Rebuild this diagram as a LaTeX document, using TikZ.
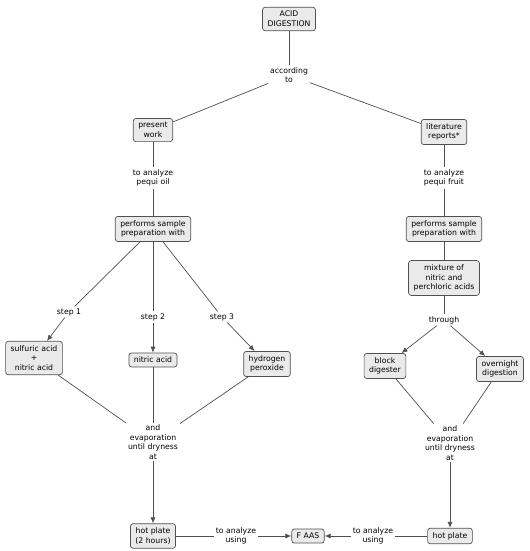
\documentclass[tikz,border=0pt]{standalone}
\usepackage{fontspec}
\setmainfont{DejaVu Sans}
\usepackage{tikz}
\usetikzlibrary{shapes,arrows.meta,positioning,calc}
\usepackage{xcolor}
\definecolor{conceptgray}{RGB}{234,234,234}
\definecolor{edgegray}{RGB}{80,80,80}

\begin{document}
\begin{tikzpicture}[
    on grid,
    font=\fontsize{8.8}{11}\selectfont,
    concept/.style={rectangle, draw=edgegray, rounded corners=3pt, fill=conceptgray, line width=0.8pt, align=center, inner xsep=0.2cm, inner ysep=0.16cm},
    linking/.style={align=center, inner sep=2pt, fill=white},
    line/.style={draw=edgegray, line width=0.8pt},
    arrow/.style={line, -{Latex[length=2.4mm,width=2mm]}}
]
    \useasboundingbox (-11.56,0.76) rectangle (9.64,-21.28);

    % Top
    \node[concept] (acid) {ACID\\DIGESTION};
    \node[linking, below=2.24cm of acid] (according) {according\\to};

    % Present work
    \node[concept, below left=2.2cm and 5.44cm of according] (present) {present\\work};
    \node[linking, below=1.92cm of present] (oil) {to analyze\\pequi oil};
    \node[concept, below=2.04cm of oil] (prepL) {performs sample\\preparation with};
    \node[linking, below left=3.32cm and 3.36cm of prepL] (step1) {step 1};
    \node[linking, below=3.52cm of prepL] (step2) {step 2};
    \node[linking, below right=3.52cm and 2.76cm of prepL] (step3) {step 3};
    \node[concept, below left=1.84cm and 1.4cm of step1] (sulfuric) {sulfuric acid\\+\\nitric acid};
    \node[concept, below=1.72cm of step2] (nitric) {nitric acid};
    \node[concept, below right=1.88cm and 1.8cm of step3] (hydrogen) {hydrogen\\peroxide};
    \node[linking, below=3.28cm of nitric] (evapL) {and\\evaporation\\until dryness\\at};
    \node[concept, below=3.76cm of evapL] (hotL) {hot plate\\(2 hours)};

    % Bottom row
    \node[linking, right=3.32cm of hotL] (usingL) {to analyze\\using};
    \node[concept, right=2.88cm of usingL] (faas) {F AAS};
    \node[linking, right=2.6cm of faas] (usingR) {to analyze\\using};
    \node[concept, right=3.08cm of usingR] (hotR) {hot plate};

    % Literature reports
    \node[concept, below right=2.28cm and 6.2cm of according] (literature) {literature\\reports*};
    \node[linking, below=1.84cm of literature] (fruit) {to analyze\\pequi fruit};
    \node[concept, below=2.04cm of fruit] (prepR) {performs sample\\preparation with};
    \node[concept, below=1.96cm of prepR] (mixture) {mixture of\\nitric and\\perchloric acids};
    \node[linking, below=1.68cm of mixture] (through) {through};
    \node[concept, below left=1.84cm and 2.36cm of through] (block) {block\\digester};
    \node[concept, below right=1.96cm and 2.24cm of through] (overnight) {overnight\\digestion};
    \node[linking, above=3.72cm of hotR] (evapR) {and\\evaporation\\until dryness\\at};

    % Edges
    \draw[line] (acid) -- (according);
    \draw[line] (according) -- (present);
    \draw[line] (according) -- (literature);
    \draw[line] (present) -- (oil);
    \draw[line] (oil) -- (prepL);
    \draw[line] (prepL) -- (step1);
    \draw[line] (prepL) -- (step2);
    \draw[line] (prepL) -- (step3);
    \draw[arrow] (step1) -- (sulfuric);
    \draw[arrow] (step2) -- (nitric);
    \draw[arrow] (step3) -- (hydrogen);
    \draw[line] (sulfuric) -- (evapL);
    \draw[line] (nitric) -- (evapL);
    \draw[line] (hydrogen) -- (evapL);
    \draw[arrow] (evapL) -- (hotL);
    \draw[line] (hotL) -- (usingL);
    \draw[arrow] (usingL) -- (faas);
    \draw[line] (hotR) -- (usingR);
    \draw[arrow] (usingR) -- (faas);
    \draw[line] (literature) -- (fruit);
    \draw[line] (fruit) -- (prepR);
    \draw[line] (prepR) -- (mixture);
    \draw[line] (mixture) -- (through);
    \draw[arrow] (through) -- (block);
    \draw[arrow] (through) -- (overnight);
    \draw[line] (block) -- (evapR);
    \draw[line] (overnight) -- (evapR);
    \draw[arrow] (evapR) -- (hotR);
\end{tikzpicture}
\end{document}
